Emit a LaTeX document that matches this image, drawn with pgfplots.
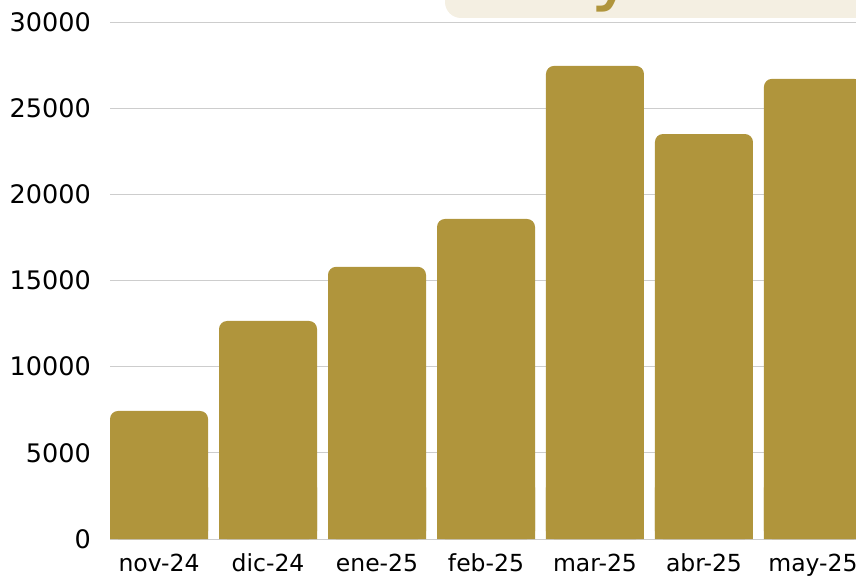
\documentclass[border=0pt]{standalone}
\usepackage{pgfplots}
\pgfplotsset{compat=1.18}
\usepackage{fontspec}
\setmainfont{DejaVu Sans}
\definecolor{bargold}{RGB}{176,149,60}
\definecolor{beige}{RGB}{244,239,226}
\definecolor{gridgray}{RGB}{205,205,205}
\begin{document}
\begin{tikzpicture}
\begin{scope}
\clip (0pt,0pt) rectangle (856pt,576pt);
\fill[beige, rounded corners=16pt] (445pt,558pt) rectangle (920pt,640pt);
\node[text=bargold, font=\fontsize{80}{90}\selectfont, anchor=base, inner sep=0pt] at (614pt,580pt) {y};
\begin{axis}[at={(110pt,37pt)}, anchor=south west, scale only axis,
  width=752pt, height=517pt,
  xmin=-0.45, xmax=6.45, ymin=0, ymax=30000,
  axis line style={draw=none},
  major tick length=0pt,
  ymajorgrids, grid style={gridgray, line width=0.9pt},
  ytick={0,5000,10000,15000,20000,25000,30000},
  scaled y ticks=false,
  xtick={0,1,2,3,4,5,6},
  xticklabels={nov-24,dic-24,ene-25,feb-25,mar-25,abr-25,may-25},
  /pgf/number format/assume math mode=true,
  /pgf/number format/1000 sep={},
  yticklabel style={font=\fontsize{25.5}{30}\selectfont, anchor=east, inner sep=0pt, xshift=-19pt},
  xticklabel style={font=\fontsize{23.5}{28}\selectfont, anchor=base, inner sep=0pt, yshift=-32pt},
  clip=false,
]
\addplot[ybar, bar width=98pt, fill=bargold, draw=none, rounded corners=8pt]
  coordinates {(0,7430) (1,12650) (2,15790) (3,18570) (4,27450) (5,23500) (6,26700)};
\addplot[ybar, bar width=98pt, fill=bargold, draw=none]
  coordinates {(0,3000) (1,3000) (2,3000) (3,3000) (4,3000) (5,3000) (6,3000)};
\end{axis}
\end{scope}
\pgfresetboundingbox
\useasboundingbox (0pt,0pt) rectangle (856pt,576pt);
\end{tikzpicture}
\end{document}
